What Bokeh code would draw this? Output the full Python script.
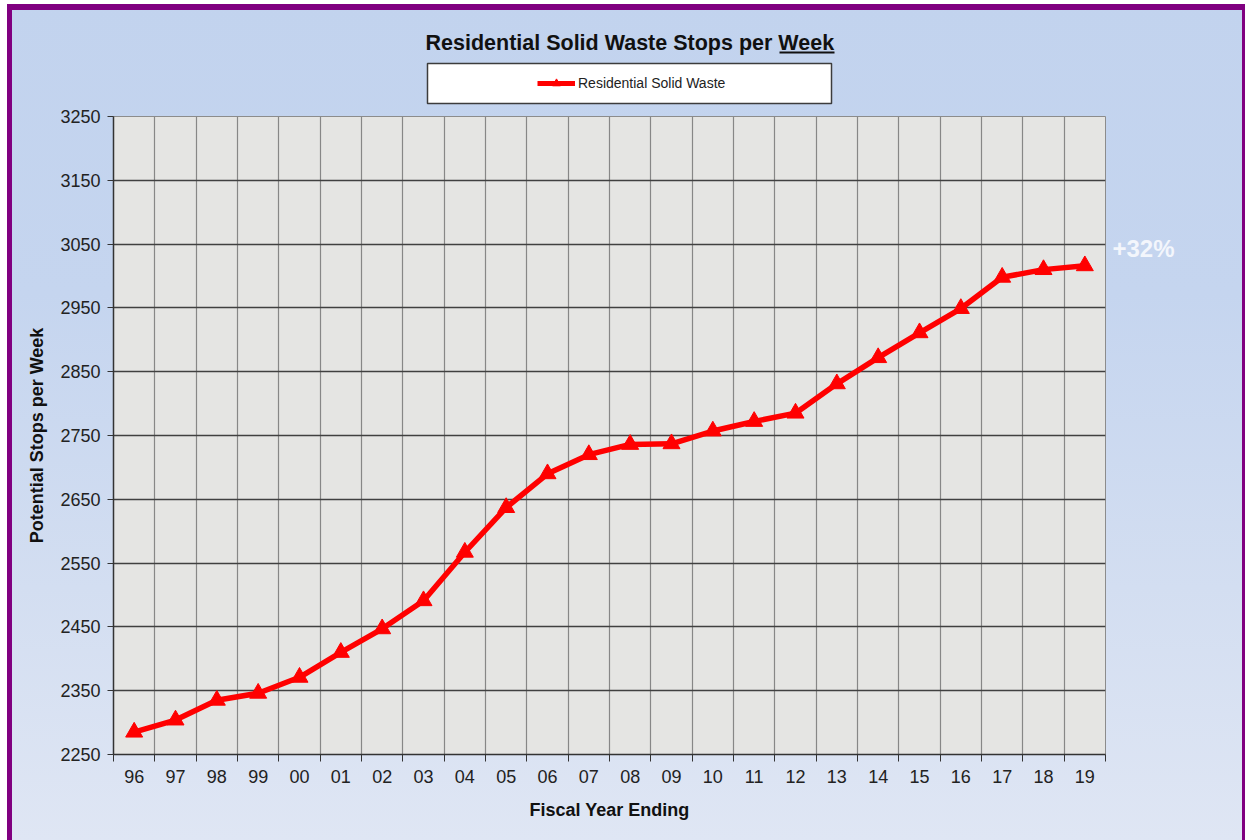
from bokeh.plotting import figure
from bokeh.layouts import column
from bokeh.models import (FixedTicker, Legend, LegendItem, Range1d, LinearAxis)
from bokeh.core.properties import value
from bokeh.embed import file_html
from bokeh.resources import INLINE

# ---- data ----
years = ["96", "97", "98", "99", "00", "01", "02", "03", "04", "05", "06", "07",
         "08", "09", "10", "11", "12", "13", "14", "15", "16", "17", "18", "19"]
stops = [2285, 2304, 2335, 2346, 2371, 2410, 2447, 2491, 2567, 2637, 2690, 2720,
         2736, 2737, 2757, 2772, 2785, 2831, 2872, 2911, 2949, 2998, 3010, 3016]
y_ticks = [2250, 2350, 2450, 2550, 2650, 2750, 2850, 2950, 3050, 3150, 3250]
series_name = "Residential Solid Waste"
title_text = "Residential Solid Waste Stops per Week"
growth_text = "+32%"
growth_level = 3043

xs = list(range(len(years)))
W = 1245
TOP_H = 108
MAIN_H = 732
BL, BR = 113, 140          # left / right borders shared by both panels
FONT = "Liberation Sans"
RED = "#FF0000"
PURPLE = "#800080"
NAN = float("nan")

# ---------------- header (title + legend) ----------------
top = figure(width=W, height=TOP_H, output_backend="svg", toolbar_location=None,
             x_range=Range1d(BL, W - BR), y_range=Range1d(TOP_H, 0),
             x_axis_location=None, y_axis_location=None,
             min_border_left=BL, min_border_right=BR,
             min_border_top=0, min_border_bottom=0)
top.title.visible = False
top.grid.visible = False
top.outline_line_color = None
top.background_fill_alpha = 0
top.border_fill_alpha = 0

# title (left-aligned so the last word can be underlined)
top.text(x=[425], y=[42], text=[title_text], text_align="left",
         text_baseline="middle", text_font=value(FONT), text_font_style="bold",
         text_font_size="21.5px", text_color="#111111")
top.quad(left=[779], right=[834], top=[51], bottom=[53], fill_color="#111111",
         line_color=None)

# legend frame
top.quad(left=[427], right=[831], top=[63], bottom=[103], fill_color="white",
         line_color="#3C3C3C", line_width=1.5)
# sample glyphs for the legend (no visible data of their own)
s_line = top.line(x=[NAN], y=[NAN], line_color=RED, line_width=5)
s_mark = top.scatter(x=[NAN], y=[NAN], marker="triangle", fill_color=RED,
                     line_color=RED)
legend = Legend(items=[LegendItem(label=series_name, renderers=[s_line, s_mark])],
                location=(537 - BL, TOP_H - 93), padding=0, margin=0, spacing=0,
                border_line_alpha=0, background_fill_alpha=0,
                glyph_width=38, glyph_height=20, label_height=20, label_standoff=3,
                label_text_font=FONT, label_text_font_size="14px",
                label_text_color="#222222")
top.add_layout(legend)

# ---------------- main chart ----------------
p = figure(width=W, height=MAIN_H, output_backend="svg", toolbar_location=None,
           x_range=Range1d(-0.5, len(years) - 0.5), y_range=Range1d(2250, 3250),
           min_border_left=BL, min_border_right=BR, min_border_top=8,
           min_border_bottom=86)
p.title.visible = False
p.border_fill_alpha = 0
p.background_fill_color = "#E5E5E3"
p.outline_line_color = "#8C8C8C"
p.outline_line_width = 1

# grids
p.ygrid.ticker = FixedTicker(ticks=y_ticks)
p.ygrid.grid_line_color = "#404040"
p.ygrid.grid_line_width = 1.3
p.xgrid.grid_line_color = None
p.xgrid.minor_grid_line_color = "#878787"
p.xgrid.minor_grid_line_width = 1.2

# x axis: labels at category centres, tick marks at category boundaries
bounds = [i - 0.5 for i in range(len(years) + 1)]
xa = p.xaxis[0]
xa.ticker = FixedTicker(ticks=xs, minor_ticks=bounds)
xa.major_label_overrides = {i: y for i, y in enumerate(years)}
xa.major_tick_out = 0
xa.major_tick_in = 0
xa.minor_tick_out = 7
xa.minor_tick_in = 0
xa.minor_tick_line_color = "#333333"
xa.axis_line_color = "#333333"
xa.axis_line_width = 1.5
xa.major_label_text_font = FONT
xa.major_label_text_font_size = "18px"
xa.major_label_text_color = "#222222"
xa.major_label_standoff = 8
xa.axis_label = "Fiscal Year Ending"
xa.axis_label_text_font = FONT
xa.axis_label_text_font_style = "bold"
xa.axis_label_text_font_size = "18px"
xa.axis_label_text_color = "#111111"
xa.axis_label_standoff = 14

ya = p.yaxis[0]
ya.ticker = FixedTicker(ticks=y_ticks)
ya.major_tick_out = 6
ya.major_tick_in = 0
ya.minor_tick_out = 0
ya.minor_tick_in = 0
ya.major_tick_line_color = "#333333"
ya.axis_line_color = "#333333"
ya.axis_line_width = 1.5
ya.major_label_text_font = FONT
ya.major_label_text_font_size = "18px"
ya.major_label_text_color = "#222222"
ya.major_label_standoff = 7
ya.axis_label = "Potential Stops per Week"
ya.axis_label_text_font = FONT
ya.axis_label_text_font_style = "bold"
ya.axis_label_text_font_size = "18px"
ya.axis_label_text_color = "#111111"
ya.axis_label_standoff = 10

# growth note on the right, as a single-tick axis label
ra = LinearAxis(ticker=FixedTicker(ticks=[growth_level]),
                major_label_overrides={growth_level: growth_text},
                axis_line_color=None, major_tick_line_color=None,
                minor_tick_line_color=None, major_tick_out=0, major_tick_in=0,
                major_label_standoff=7, major_label_text_font=FONT,
                major_label_text_font_style="bold", major_label_text_font_size="24px",
                major_label_text_color="#F3F6FC")
p.add_layout(ra, "right")

# series
p.line(xs, stops, line_color=RED, line_width=5.5)
p.scatter(xs, stops, marker="triangle", size=17, fill_color=RED, line_color=RED)

page = column(top, p, spacing=0, styles={
    "background": "linear-gradient(to bottom, #C2D3EE 0%, #C5D5EF 35%, #D3DEF1 70%, #DFE6F4 100%)",
    "box-shadow": ("inset 7px 0 0 0 #FFFFFF, inset 0 4px 0 0 #FFFFFF, "
                   f"inset 12px 0 0 0 {PURPLE}, inset 0 10px 0 0 {PURPLE}, "
                   f"inset -3px 0 0 0 {PURPLE}"),
})

open("out.html", "w").write(file_html(page, INLINE))
